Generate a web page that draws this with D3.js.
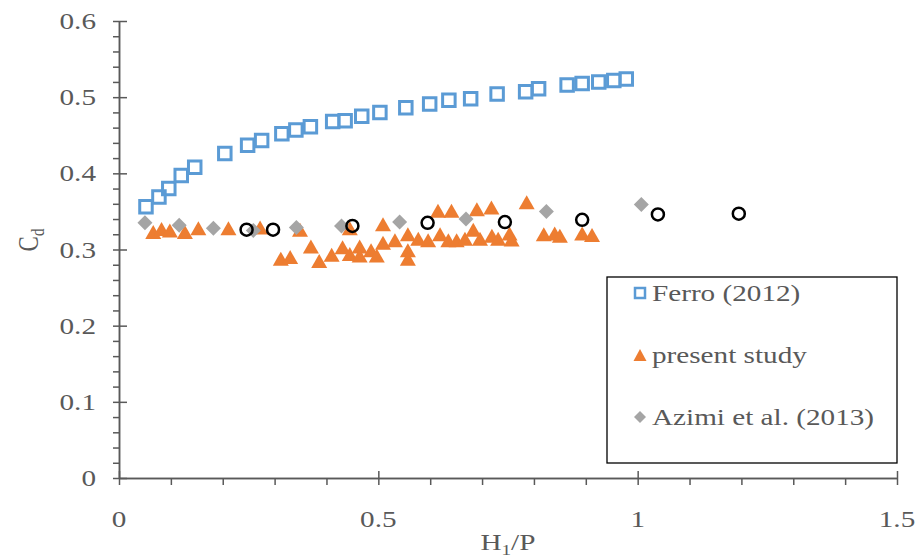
<!DOCTYPE html>
<html><head><meta charset="utf-8">
<script src="https://cdn.jsdelivr.net/npm/d3@7"></script>
<style>body{margin:0;background:#fff}svg{display:block}</style>
</head><body>
<svg id="c" width="915" height="560"></svg>
<script>
// ---- data ----
const xTickValues = [0, 0.5, 1, 1.5];
const xTickLabels = ["0", "0.5", "1", "1.5"];
const yTickValues = [0, 0.1, 0.2, 0.3, 0.4, 0.5, 0.6];
const yTickLabels = ["0", "0.1", "0.2", "0.3", "0.4", "0.5", "0.6"];
const seriesNames = ["Ferro (2012)", "present study", "Azimi et al. (2013)"];

const ferroX = [0.052,0.077,0.096,0.120,0.146,0.204,0.248,0.275,0.314,0.341,0.369,0.412,0.436,0.468,0.503,0.553,0.599,0.636,0.678,0.729,0.784,0.809,0.864,0.893,0.925,0.954,0.978];
const ferroY = [0.356,0.369,0.380,0.397,0.408,0.426,0.437,0.443,0.452,0.457,0.461,0.468,0.469,0.475,0.480,0.486,0.491,0.496,0.498,0.504,0.507,0.511,0.516,0.518,0.520,0.522,0.524];

const presentX = [0.066,0.082,0.098,0.127,0.153,0.211,0.272,0.349,0.445,0.509,0.312,0.330,0.370,0.386,0.410,0.431,0.445,0.464,0.464,0.486,0.497,0.509,0.532,0.557,0.557,0.557,0.577,0.596,0.619,0.635,0.651,0.667,0.683,0.696,0.719,0.731,0.753,0.757,0.819,0.840,0.850,0.893,0.912,0.615,0.641,0.690,0.718,0.786];
const presentY = [0.323,0.327,0.325,0.323,0.328,0.328,0.329,0.326,0.328,0.333,0.288,0.290,0.304,0.285,0.293,0.303,0.294,0.304,0.292,0.299,0.292,0.309,0.312,0.320,0.299,0.288,0.314,0.312,0.320,0.312,0.312,0.314,0.326,0.314,0.318,0.314,0.321,0.313,0.320,0.321,0.318,0.321,0.319,0.351,0.351,0.353,0.355,0.362];

const azimiX = [0.050,0.116,0.182,0.259,0.342,0.429,0.541,0.669,0.824,1.007];
const azimiY = [0.335,0.332,0.328,0.325,0.329,0.331,0.336,0.340,0.350,0.359];

const otherX = [0.246,0.297,0.450,0.595,0.744,0.893,1.039,1.195];
const otherY = [0.326,0.326,0.331,0.335,0.336,0.339,0.346,0.347];

// ---- setup ----
const svg = d3.select("#c");
const x = d3.scaleLinear().domain([0, 1.5]).range([119, 897]);
const y = d3.scaleLinear().domain([0, 0.6]).range([478, 21]);
const axisColor = "#595959";
const textColor = "#595959";
const font = "'Liberation Serif','Times New Roman',serif";
const SX = 1.27;

function label(g, px, py, str, anchor) {
  return g.append("text").attr("transform", `translate(${px},${py}) scale(${SX},1)`)
    .attr("text-anchor", anchor).attr("font-family", font).attr("font-size", 23)
    .attr("fill", textColor).text(str);
}

// ---- axes ----
const ax = svg.append("g");
const yMinor = d3.range(0, 0.6001, 0.02);
ax.append("g").attr("transform", `translate(${x(0)},0)`)
  .call(d3.axisLeft(y).tickValues(yMinor).tickSize(6).tickFormat("").tickSizeOuter(0));
ax.append("g").attr("transform", `translate(${x(0)},0)`)
  .call(d3.axisRight(y).tickValues(yTickValues).tickSize(8).tickFormat("").tickSizeOuter(0));
const xMinor = d3.range(0, 1.5001, 0.1);
ax.append("g").attr("transform", `translate(0,${y(0)})`)
  .call(d3.axisBottom(x).tickValues(xMinor).tickSize(7).tickFormat("").tickSizeOuter(0));
ax.append("g").attr("transform", `translate(0,${y(0)})`)
  .call(d3.axisTop(x).tickValues(xTickValues).tickSize(7).tickFormat("").tickSizeOuter(0));
ax.selectAll("path,line").attr("stroke", axisColor).attr("stroke-width", 1.5);

const lab = svg.append("g");
yTickValues.forEach((v, i) => label(lab, 96, y(v) + 8, yTickLabels[i], "end"));
xTickValues.forEach((v, i) => label(lab, x(v), 527, xTickLabels[i], "middle"));

// axis titles
const yt = svg.append("text").attr("transform", `translate(38,240) scale(${SX},1) rotate(-90)`)
  .attr("text-anchor", "middle").attr("font-family", font).attr("font-size", 23).attr("fill", textColor);
yt.append("tspan").text("C");
yt.append("tspan").attr("font-size", 15).attr("dy", 5).text("d");
const xt = svg.append("text").attr("transform", `translate(508,550) scale(${SX},1)`)
  .attr("text-anchor", "middle").attr("font-family", font).attr("font-size", 23).attr("fill", textColor);
xt.append("tspan").text("H");
xt.append("tspan").attr("font-size", 15).attr("dy", 5).text("1");
xt.append("tspan").attr("dy", -5).text("/P");

// ---- marks ----
function triType(w, h) {
  return { draw(ctx) { ctx.moveTo(0, -h / 2); ctx.lineTo(w / 2, h / 2); ctx.lineTo(-w / 2, h / 2); ctx.closePath(); } };
}
function diaType(r) {
  return { draw(ctx) { ctx.moveTo(0, -r); ctx.lineTo(r, 0); ctx.lineTo(0, r); ctx.lineTo(-r, 0); ctx.closePath(); } };
}
function sqType(s) {
  return { draw(ctx) { ctx.rect(-s / 2, -s / 2, s, s); } };
}

const plot = svg.append("g");
plot.selectAll(".ferro").data(ferroX.map((v, i) => [v, ferroY[i]])).join("path")
  .attr("transform", d => `translate(${x(d[0])},${y(d[1])})`)
  .attr("d", d3.symbol().type(sqType(12.5))())
  .attr("fill", "none").attr("stroke", "#5B9BD5").attr("stroke-width", 3);
plot.selectAll(".present").data(presentX.map((v, i) => [v, presentY[i]])).join("path")
  .attr("transform", d => `translate(${x(d[0])},${y(d[1])})`)
  .attr("d", d3.symbol().type(triType(16, 14))())
  .attr("fill", "#ED7D31");
plot.selectAll(".azimi").data(azimiX.map((v, i) => [v, azimiY[i]])).join("path")
  .attr("transform", d => `translate(${x(d[0])},${y(d[1])})`)
  .attr("d", d3.symbol().type(diaType(7.5))())
  .attr("fill", "#A5A5A5");
plot.selectAll(".other").data(otherX.map((v, i) => [v, otherY[i]])).join("circle")
  .attr("cx", d => x(d[0])).attr("cy", d => y(d[1])).attr("r", 6)
  .attr("fill", "none").attr("stroke", "#000").attr("stroke-width", 2.5);

// ---- legend ----
const lg = svg.append("g");
lg.append("rect").attr("x", 607).attr("y", 277).attr("width", 290).attr("height", 186)
  .attr("fill", "#fff").attr("stroke", "#000").attr("stroke-width", 1.3);
const lgY = [293, 355, 417];
lg.append("path").attr("transform", `translate(640,${lgY[0]})`).attr("d", d3.symbol().type(sqType(10))())
  .attr("fill", "none").attr("stroke", "#5B9BD5").attr("stroke-width", 2.5);
lg.append("path").attr("transform", `translate(640,${lgY[1]})`).attr("d", d3.symbol().type(triType(13, 12))())
  .attr("fill", "#ED7D31");
lg.append("path").attr("transform", `translate(640,${lgY[2]})`).attr("d", d3.symbol().type(diaType(6))())
  .attr("fill", "#A5A5A5");
seriesNames.forEach((n, i) => label(lg, 652, lgY[i] + 8, n, "start"));
</script>
</body></html>
